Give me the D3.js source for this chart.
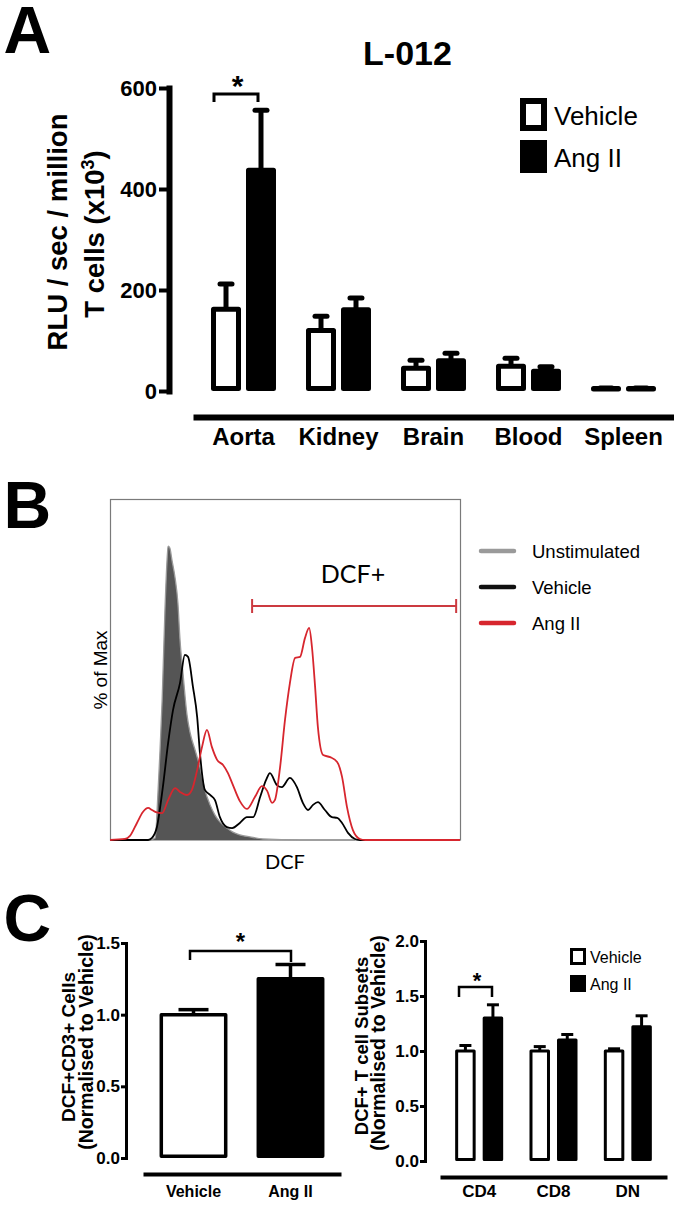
<!DOCTYPE html>
<html><head><meta charset="utf-8">
<script src="https://cdn.jsdelivr.net/npm/d3@7"></script>
<style>body{margin:0;background:#fff}svg{display:block}</style>
</head><body>
<svg id="fig" width="674" height="1206"></svg>
<script>
// ================= DATA =================
// Panel A : L-012 chemiluminescence (RLU/sec/million T cells, x10^3)
const organs = ["Aorta", "Kidney", "Brain", "Blood", "Spleen"];
const groups = ["Vehicle", "Ang II"];
const l012Vehicle    = [162, 120, 45, 49, 5];
const l012VehicleSem = [50, 28, 16, 16, 1];
const l012AngII      = [437, 161, 60, 39, 5];
const l012AngIISem   = [119, 23, 15, 9, 1];
const l012Ticks      = [0, 200, 400, 600];

// Panel B : DCF histograms, [DCF channel (0-1000), % of Max]
const histUnstim = [[114,0],[129,0.6],[137,13.8],[143,26.4],[149,41.1],[157,67.4],[163,82.1],[166,86.2],
  [171,85.6],[177,82.1],[186,76.8],[194,69.5],[200,58.7],[209,48.4],[220,36.7],[229,31.4],[243,26.4],
  [257,21.4],[271,14.7],[286,10.3],[300,7.3],[314,5.3],[334,3.5],[351,2.3],[371,1.5],[400,0.9],
  [437,0.3],[543,0],[700,0]];
const histVehicle = [[0,0],[109,0],[120,0.6],[134,3.8],[151,15.5],[166,28.4],[180,38.1],[200,46.0],
  [214,54.3],[223,53.7],[237,44.9],[249,36.1],[257,25.5],[271,14.7],[286,13.2],[300,11.7],[314,6.7],
  [334,3.8],[349,3.5],[371,5.0],[391,6.7],[409,6.7],[429,12.6],[446,17.6],[457,19.6],[477,16.1],
  [491,15.5],[514,18.2],[534,15.5],[551,10.9],[566,8.8],[580,10.3],[594,11.1],[614,8.8],[634,6.7],
  [649,6.5],[663,5.0],[680,2.1],[700,0.3],[714,0],[1000,0]];
const histAngII = [[0,0],[43,0.3],[57,1.2],[77,5.0],[94,8.2],[109,9.4],[120,8.8],[131,8.2],[149,7.9],
  [166,11.7],[186,15.2],[200,14.1],[220,13.2],[234,14.7],[249,20.5],[263,27.3],[277,32.3],[291,27.3],
  [306,23.5],[323,22.0],[337,19.6],[349,16.7],[371,11.4],[391,9.1],[414,12.6],[434,15.8],[449,14.4],
  [463,10.9],[471,11.7],[486,21.4],[500,35.2],[514,46.0],[529,53.4],[543,53.7],[557,59.2],[569,62.2],
  [577,56.6],[586,44.9],[594,33.1],[609,24.9],[629,24.3],[649,22.9],[663,18.5],[677,9.7],[694,2.9],
  [714,0.3],[729,0],[1000,0]];
const histNames = ["Unstimulated", "Vehicle", "Ang II"];
const dcfGate = [406, 989];

// Panel C left : DCF+CD3+ cells
const cd3Groups = ["Vehicle", "Ang II"];
const cd3Mean   = [1.00, 1.25];
const cd3Sem    = [0.035, 0.10];
const cd3Ticks  = [0, 0.5, 1.0, 1.5];

// Panel C right : DCF+ T cell subsets
const subsets          = ["CD4", "CD8", "DN"];
const subsetVehicle    = [1.00, 1.00, 1.00];
const subsetVehicleSem = [0.05, 0.04, 0.02];
const subsetAngII      = [1.30, 1.10, 1.22];
const subsetAngIISem   = [0.12, 0.05, 0.10];
const subsetTicks      = [0, 0.5, 1.0, 1.5, 2.0];

// ================= DRAWING =================
const FONT = "'Liberation Sans', Arial, Helvetica, sans-serif";
const svg = d3.select("#fig").style("font-family", FONT);

function panelLetter(t, x, y) {
  svg.append("text").attr("x", x).attr("y", y).attr("font-size", 66).attr("font-weight", "bold").text(t);
}
function rotText(x, y, txt, size, weight) {
  return svg.append("text").attr("transform", `translate(${x},${y}) rotate(-90)`)
    .attr("text-anchor", "middle").attr("font-size", size).attr("font-weight", weight || "bold").text(txt);
}
function bracket(g, xa, xb, ytop, ya, yb, sw) {
  g.append("path").attr("d", `M${xa},${ya}V${ytop}H${xb}V${yb}`)
    .attr("fill", "none").attr("stroke", "#000").attr("stroke-width", sw);
}
// bars: [{x, w, v, sem, fill}]
function drawBars(g, bars, y, sw, errW, capHalf, cap) {
  bars.forEach(b => {
    const cx = b.x + b.w / 2;
    g.append("line").attr("x1", cx).attr("x2", cx).attr("y1", y(b.v)).attr("y2", y(b.v + b.sem))
      .attr("stroke", "#000").attr("stroke-width", errW);
    g.append("line").attr("x1", cx - capHalf).attr("x2", cx + capHalf)
      .attr("y1", y(b.v + b.sem)).attr("y2", y(b.v + b.sem))
      .attr("stroke", "#000").attr("stroke-width", errW).attr("stroke-linecap", cap);
  });
  bars.forEach(b => {
    g.append("rect").attr("x", b.x + sw / 2).attr("width", b.w - sw)
      .attr("y", y(b.v)).attr("height", Math.max(0.5, y(0) - y(b.v) - sw / 2))
      .attr("fill", b.fill).attr("stroke", "#000").attr("stroke-width", sw)
      .attr("stroke-linejoin", "round");
  });
}
function styleAxis(g, domW, tickW, size) {
  g.select(".domain").attr("stroke-width", domW).attr("stroke-linecap", "square");
  g.selectAll(".tick line").attr("stroke-width", tickW);
  g.selectAll(".tick text").attr("font-size", size).attr("font-weight", "bold")
    .attr("font-family", FONT).attr("fill", "#000");
}

// ---------- Panel A ----------
panelLetter("A", 3.5, 53);
const gA = svg.append("g");
gA.append("text").attr("x", 407.5).attr("y", 65).attr("text-anchor", "middle")
  .attr("font-size", 34).attr("font-weight", "bold").text("L-012");

const yA = d3.scaleLinear().domain([0, 600]).range([391, 88]);
const xA = d3.scaleBand().domain(organs).range([196, 671]).paddingInner(0.316).paddingOuter(0.158);
const xA1 = d3.scaleBand().domain(groups).range([0, xA.bandwidth()]).paddingInner(0.143);

const axA = gA.append("g").attr("transform", "translate(169,0)")
  .call(d3.axisLeft(yA).tickValues(l012Ticks).tickSize(10).tickSizeOuter(0).tickPadding(2).tickFormat(d3.format("d")));
styleAxis(axA, 6, 4, 22);

const axAx = gA.append("g").attr("transform", "translate(0,417)")
  .call(d3.axisBottom(xA).tickSize(0).tickSizeOuter(0).tickPadding(11));
styleAxis(axAx, 6, 0, 24);

const tA = rotText(67, 232, "RLU / sec / million", 27.5);
const tA2 = svg.append("text").attr("transform", "translate(104,234) rotate(-90)")
  .attr("text-anchor", "middle").attr("font-size", 27.5).attr("font-weight", "bold");
tA2.append("tspan").text("T cells (x10");
tA2.append("tspan").attr("font-size", 18).attr("dy", -10).text("3");
tA2.append("tspan").attr("dy", 10).text(")");

const barsA = [];
organs.forEach((o, i) => {
  barsA.push({x: xA(o) + xA1("Vehicle"), w: xA1.bandwidth(), v: l012Vehicle[i], sem: l012VehicleSem[i], fill: "#fff"});
  barsA.push({x: xA(o) + xA1("Ang II"), w: xA1.bandwidth(), v: l012AngII[i], sem: l012AngIISem[i], fill: "#000"});
});
drawBars(gA, barsA, yA, 5, 5, 6, "round");

bracket(gA, 214, 258, 94, 102, 102, 3);
gA.append("text").attr("x", 237.5).attr("y", 95.5).attr("text-anchor", "middle")
  .attr("font-size", 30).attr("font-weight", "bold").text("*");

// legend A
[["Vehicle", "#fff"], ["Ang II", "#000"]].forEach((d, i) => {
  gA.append("rect").attr("x", 523).attr("y", 101 + i * 42).attr("width", 21).attr("height", 27)
    .attr("fill", d[1]).attr("stroke", "#000").attr("stroke-width", 6);
  gA.append("text").attr("x", 554).attr("y", 125 + i * 42).attr("font-size", 26).text(d[0]);
});

// ---------- Panel B ----------
panelLetter("B", 3.5, 528);
const gB = svg.append("g");
const hx = d3.scaleLinear().domain([0, 1000]).range([110, 460]);
const hy = d3.scaleLinear().domain([0, 100]).range([840, 499]);

gB.append("rect").attr("x", 110.5).attr("y", 499.5).attr("width", 350).attr("height", 340.5)
  .attr("fill", "none").attr("stroke", "#7a7a7a").attr("stroke-width", 1.2);

const area = d3.area().x(d => hx(d[0])).y0(hy(0)).y1(d => hy(d[1])).curve(d3.curveMonotoneX);
const line = d3.line().x(d => hx(d[0])).y(d => hy(d[1])).curve(d3.curveMonotoneX);
gB.append("path").attr("d", area(histUnstim)).attr("fill", "#555");
gB.append("path").attr("d", line(histUnstim)).attr("fill", "none").attr("stroke", "#9a9a9a").attr("stroke-width", 1.3);
gB.append("path").attr("d", line(histVehicle)).attr("fill", "none").attr("stroke", "#000").attr("stroke-width", 1.8);
gB.append("path").attr("d", line(histAngII)).attr("fill", "none").attr("stroke", "#d7262e").attr("stroke-width", 1.8);

// gate
const gateY = 606, gateColor = "#cc3a40";
gB.append("line").attr("x1", hx(dcfGate[0])).attr("x2", hx(dcfGate[1])).attr("y1", gateY).attr("y2", gateY)
  .attr("stroke", gateColor).attr("stroke-width", 2);
dcfGate.forEach(c => gB.append("line").attr("x1", hx(c)).attr("x2", hx(c)).attr("y1", gateY - 7).attr("y2", gateY + 7)
  .attr("stroke", gateColor).attr("stroke-width", 2));
gB.append("text").attr("x", 353).attr("y", 583).attr("text-anchor", "middle")
  .attr("font-family", "Lato, 'Open Sans', sans-serif").attr("font-size", 25).text("DCF+");

gB.append("text").attr("x", 285).attr("y", 869).attr("text-anchor", "middle")
  .attr("font-family", "Lato, 'Open Sans', sans-serif").attr("font-size", 20).text("DCF");
rotText(107, 670, "% of Max", 19, "normal");

const histColors = ["#9a9a9a", "#111", "#d7262e"];
histNames.forEach((n, i) => {
  const yy = 551 + i * 36;
  gB.append("line").attr("x1", 481).attr("x2", 514).attr("y1", yy).attr("y2", yy)
    .attr("stroke", histColors[i]).attr("stroke-width", 4.5).attr("stroke-linecap", "round");
  gB.append("text").attr("x", 532).attr("y", yy + 6.5).attr("font-size", 18.5).text(n);
});

// ---------- Panel C left ----------
panelLetter("C", 3.5, 941);
const gC1 = svg.append("g");
const yC1 = d3.scaleLinear().domain([0, 1.5]).range([1158, 943]);
const xC1 = d3.scaleBand().domain(cd3Groups).range([145, 339]).paddingInner(0.3).paddingOuter(0.15);
const axC1 = gC1.append("g").attr("transform", "translate(126,0)")
  .call(d3.axisLeft(yC1).tickValues(cd3Ticks).tickSize(5).tickSizeOuter(0).tickPadding(1).tickFormat(d3.format(".1f")));
styleAxis(axC1, 3, 3, 17);
const axC1x = gC1.append("g").attr("transform", "translate(0,1174)")
  .call(d3.axisBottom(xC1).tickSize(0).tickSizeOuter(0).tickPadding(11.5));
styleAxis(axC1x, 4, 0, 16);
rotText(75, 1047, "DCF+CD3+ Cells", 19);
rotText(93, 1042, "(Normalised to Vehicle)", 19.5);
drawBars(gC1, cd3Groups.map((gname, i) => ({x: xC1(gname), w: xC1.bandwidth(), v: cd3Mean[i], sem: cd3Sem[i],
  fill: i === 0 ? "#fff" : "#000"})), yC1, 3.5, 3.5, 15, "butt");
bracket(gC1, 190, 291, 951, 960, 962, 2.5);
gC1.append("text").attr("x", 240.5).attr("y", 950).attr("text-anchor", "middle")
  .attr("font-size", 24).attr("font-weight", "bold").text("*");

// ---------- Panel C right ----------
const gC2 = svg.append("g");
const yC2 = d3.scaleLinear().domain([0, 2]).range([1161, 941]);
const xC2 = d3.scaleBand().domain(subsets).range([442, 665]).paddingInner(0.354).paddingOuter(0.177);
const xC21 = d3.scaleBand().domain(groups).range([0, xC2.bandwidth()]).paddingInner(0.255);
const axC2 = gC2.append("g").attr("transform", "translate(425,0)")
  .call(d3.axisLeft(yC2).tickValues(subsetTicks).tickSize(5).tickSizeOuter(0).tickPadding(1).tickFormat(d3.format(".1f")));
styleAxis(axC2, 3, 3, 17);
const axC2x = gC2.append("g").attr("transform", "translate(0,1177)")
  .call(d3.axisBottom(xC2).tickSize(0).tickSizeOuter(0).tickPadding(8));
styleAxis(axC2x, 4, 0, 17);
rotText(368, 1046, "DCF+ T cell Subsets", 18.5);
rotText(385, 1043, "(Normalised to Vehicle)", 19.5);
const barsC2 = [];
subsets.forEach((s, i) => {
  barsC2.push({x: xC2(s) + xC21("Vehicle"), w: xC21.bandwidth(), v: subsetVehicle[i], sem: subsetVehicleSem[i], fill: "#fff"});
  barsC2.push({x: xC2(s) + xC21("Ang II"), w: xC21.bandwidth(), v: subsetAngII[i], sem: subsetAngIISem[i], fill: "#000"});
});
drawBars(gC2, barsC2, yC2, 3, 3, 6, "butt");
bracket(gC2, 459, 492, 987, 997, 997, 2.5);
gC2.append("text").attr("x", 477).attr("y", 988).attr("text-anchor", "middle")
  .attr("font-size", 22).attr("font-weight", "bold").text("*");
[["Vehicle", "#fff"], ["Ang II", "#000"]].forEach((d, i) => {
  gC2.append("rect").attr("x", 571.5).attr("y", 949.5 + i * 27).attr("width", 13).attr("height", 14)
    .attr("fill", d[1]).attr("stroke", "#000").attr("stroke-width", 3);
  gC2.append("text").attr("x", 590).attr("y", 963 + i * 27).attr("font-size", 16).text(d[0]);
});
</script>
</body></html>
